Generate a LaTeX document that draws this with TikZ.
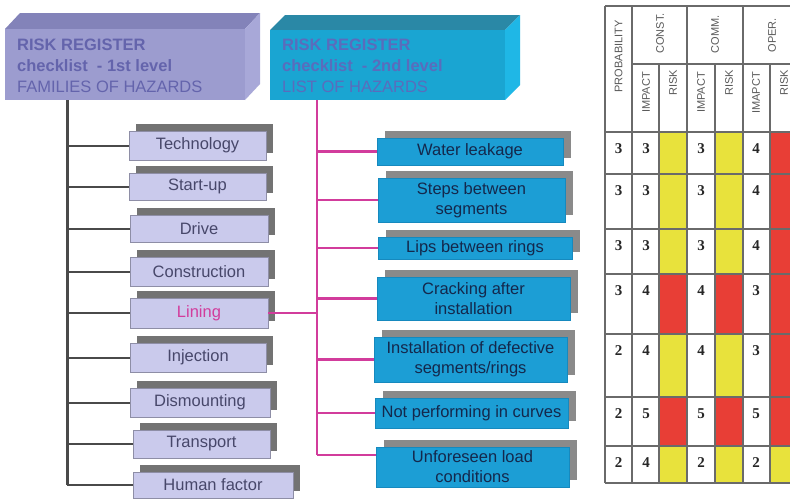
\documentclass[tikz,border=0pt]{standalone}
\usepackage{fontspec}
\setmainfont{Liberation Sans}
\newfontfamily\numfont{Liberation Serif}
\usetikzlibrary{calc}

% palette
\definecolor{hdrAfront}{HTML}{9C9CCF}
\definecolor{hdrAtop}{HTML}{8383B9}
\definecolor{hdrAside}{HTML}{A8A8D8}
\definecolor{hdrAtext}{HTML}{6464AC}
\definecolor{hdrBfront}{HTML}{1AA5D2}
\definecolor{hdrBtop}{HTML}{2A88A6}
\definecolor{hdrBside}{HTML}{1FB7E6}
\definecolor{hdrBtext}{HTML}{5A6CBC}
\definecolor{famfill}{HTML}{CACAEC}
\definecolor{famedge}{HTML}{8E8EA6}
\definecolor{famtext}{HTML}{47476A}
\definecolor{hazfill}{HTML}{1C9ED5}
\definecolor{hazedge}{HTML}{1689BE}
\definecolor{haztext}{HTML}{14284C}
\definecolor{famshade}{HTML}{737373}
\definecolor{hazshade}{HTML}{8A8A8A}
\definecolor{trunkgray}{HTML}{4A4A4A}
\definecolor{magline}{HTML}{D23C9C}
\definecolor{cellY}{HTML}{E8E23C}
\definecolor{cellR}{HTML}{E83E36}
\definecolor{gridgray}{HTML}{6A6A6A}
\definecolor{headtext}{HTML}{5A5A5A}

\tikzset{
  fambox/.style={draw=famedge, line width=0.8pt, fill=famfill, text=famtext,
    inner sep=0pt, font=\fontsize{16.5}{19}\selectfont},
  hazbox/.style={draw=hazedge, line width=0.6pt, fill=hazfill, text=haztext,
    inner sep=0pt, align=center, font=\fontsize{16.5}{20}\selectfont},
  hdrtext/.style={inner sep=0pt, align=left, font=\fontsize{16.5}{21}\selectfont},
  graylink/.style={draw=trunkgray, line width=2pt},
  graytrunk/.style={draw=trunkgray, line width=3pt},
  maglink/.style={draw=magline, line width=2.4pt},
  gridline/.style={draw=gridgray, line width=1.1pt},
  headlbl/.style={text=headtext, inner sep=0pt, rotate=90, anchor=east,
    font=\fontsize{11}{13}\selectfont},
  numtxt/.style={inner sep=0pt, text=black!85, font=\numfont\bfseries\fontsize{15}{17}\selectfont},
}

% box with a drop shadow up and to the right: name, x1, y1, x2, y2, style, shadow colour, dx, text
\newcommand\shadedbox[9]{%
  \fill[#7] ({#2+#8},{#3-7}) rectangle ({#4+#8},{#5-7});
  \node[#6, minimum width={(#4-#2)*1pt}, minimum height={(#5-#3)*1pt}]
    (#1) at ({(#2+#4)/2},{(#3+#5)/2}) {#9};
}

\begin{document}
\begin{tikzpicture}[x=1pt,y=-1pt]
\useasboundingbox (0,0) rectangle (790,499);
\fill[white] (0,0) rectangle (790,499);
\begin{scope}
\clip (0,0) rectangle (790,499);

% ---------- 3D header blocks ----------
\fill[hdrAtop] (5,29) -- (20,13) -- (260,13) -- (245,29) -- cycle;
\fill[hdrAside] (245,29) -- (260,13) -- (260,84) -- (245,100) -- cycle;
\node[fill=hdrAfront, minimum width=240pt, minimum height=71pt, inner sep=0pt]
  (hdrA) at (125,64.5) {};
\node[hdrtext, text=hdrAtext, anchor=west] (hdrAtxt) at (17,66)
  {\bfseries RISK REGISTER\\ \bfseries checklist\ \ - 1st level\\ FAMILIES OF HAZARDS};

\fill[hdrBtop] (270,30) -- (285,15) -- (520,15) -- (505,30) -- cycle;
\fill[hdrBside] (505,30) -- (520,15) -- (520,85) -- (505,100) -- cycle;
\node[fill=hdrBfront, minimum width=235pt, minimum height=70pt, inner sep=0pt]
  (hdrB) at (387.5,65) {};
\node[hdrtext, text=hdrBtext, anchor=west] (hdrBtxt) at (282,66)
  {\bfseries RISK REGISTER\\ \bfseries checklist\ \ - 2nd level\\ LIST OF HAZARDS};

% ---------- families of hazards ----------
\shadedbox{tech}{129}{131}{266}{160}{fambox}{famshade}{7}{Technology}
\shadedbox{start}{129}{173}{266}{200}{fambox}{famshade}{7}{Start-up}
\shadedbox{drive}{130}{215}{268}{242}{fambox}{famshade}{7}{Drive}
\shadedbox{cons}{130}{257}{268}{286}{fambox}{famshade}{7}{Construction}
\shadedbox{lin}{130}{298}{268}{328}{fambox}{famshade}{7}{\textcolor{magline}{Lining}}
\shadedbox{inj}{130}{343}{266}{372}{fambox}{famshade}{7}{Injection}
\shadedbox{dism}{130}{388}{270}{417}{fambox}{famshade}{7}{Dismounting}
\shadedbox{trans}{133}{430}{270}{458}{fambox}{famshade}{7}{Transport}
\shadedbox{hum}{133}{472}{293}{498}{fambox}{famshade}{7}{Human factor}

% ---------- list of hazards ----------
\shadedbox{water}{377}{138}{563}{165}{hazbox}{hazshade}{8}{Water leakage}
\shadedbox{steps}{378}{178}{565}{222}{hazbox}{hazshade}{8}{Steps between\\segments}
\shadedbox{lips}{378}{237}{572}{259}{hazbox}{hazshade}{8}{Lips between rings}
\shadedbox{crack}{377}{277}{570}{320}{hazbox}{hazshade}{8}{Cracking after\\installation}
\shadedbox{inst}{374}{337}{567}{382}{hazbox}{hazshade}{8}{Installation of defective\\segments/rings}
\shadedbox{notp}{375}{398}{568}{428}{hazbox}{hazshade}{8}{Not performing in curves}
\shadedbox{unf}{376}{447}{569}{487}{hazbox}{hazshade}{8}{Unforeseen load\\conditions}

% ---------- connectors: first level (gray) ----------
\coordinate (trunkA) at (67,100);
\draw[graytrunk] (trunkA) -- (hum.west -| trunkA);
\foreach \b in {tech,start,drive,cons,lin,inj,dism,trans,hum}
  \draw[graylink] (\b.west -| trunkA) -- (\b.west);

% ---------- connectors: second level (magenta) ----------
\coordinate (trunkB) at (317,100);
\coordinate (unfIn) at ([yshift=12pt]unf.west);
\draw[maglink] (trunkB) -- (unfIn -| trunkB);
\draw[maglink] (lin.east) -- (lin.east -| trunkB);
\foreach \b in {water,steps,lips,crack,inst,notp}
  \draw[maglink] (\b.west -| trunkB) -- (\b.west);
\draw[maglink] (unfIn -| trunkB) -- (unfIn);

% ---------- risk table ----------
\foreach \top/\bot/\p/\a/\ca/\b/\cb/\c/\cc [count=\i] in {
    132/174/3/3/cellY/3/cellY/4/cellR,
    174/229/3/3/cellY/3/cellY/4/cellR,
    229/274/3/3/cellY/3/cellY/4/cellR,
    274/334/3/4/cellR/4/cellR/3/cellR,
    334/397/2/4/cellY/4/cellY/3/cellR,
    397/446/2/5/cellR/5/cellR/5/cellR,
    446/483/2/4/cellY/2/cellY/2/cellY}{
  \fill[\ca] (659,\top) rectangle (687,\bot);
  \fill[\cb] (715,\top) rectangle (743,\bot);
  \fill[\cc] (770,\top) rectangle (800,\bot);
  \node[numtxt] (prob\i) at (618.5,{\top+17}) {\p};
  \node[numtxt] (impC\i) at (646,{\top+17}) {\a};
  \node[numtxt] (impM\i) at (701,{\top+17}) {\b};
  \node[numtxt] (impO\i) at (756,{\top+17}) {\c};
}
\foreach \y in {6,132,174,229,274,334,397,446,483}
  \draw[gridline] (605,\y) -- (800,\y);
\draw[gridline] (632,64) -- (800,64);
\foreach \x in {605,632,687,743}
  \draw[gridline] (\x,6) -- (\x,483);
\foreach \x in {659,715,770}
  \draw[gridline] (\x,64) -- (\x,483);

\node[headlbl] (hProb) at (618.5,20) {PROBABILITY};
\node[headlbl] (hConst) at (660,13) {CONST.};
\node[headlbl] (hComm) at (715,15) {COMM.};
\node[headlbl] (hOper) at (772,18) {OPER.};
\node[headlbl] (hImpC) at (646,72) {IMPACT};
\node[headlbl] (hRiskC) at (673,70) {RISK};
\node[headlbl] (hImpM) at (701,72) {IMPACT};
\node[headlbl] (hRiskM) at (729,70) {RISK};
\node[headlbl] (hImpO) at (756,72) {IMAPCT};
\node[headlbl] (hRiskO) at (784,70) {RISK};
\end{scope}
\end{tikzpicture}
\end{document}
